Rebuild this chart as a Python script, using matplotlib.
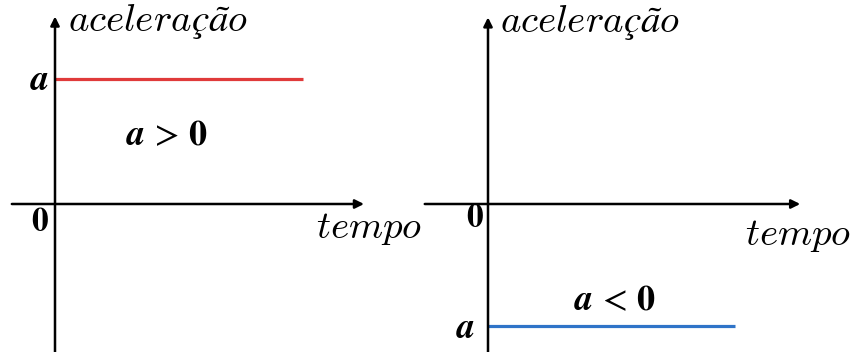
import numpy as np
import matplotlib.pyplot as plt

plt.rcParams['mathtext.fontset'] = 'cm'
plt.rcParams['mathtext.fallback'] = 'stix'

# data: constant acceleration, positive (left) and negative (right)
t_end = [5, 5]
accel = [1, -1]
line_colors = ['#e03a3a', '#2f74c8']
sign_labels = [r'$\boldsymbol{a}\,>\,\mathbf{0}$',
               r'$\boldsymbol{a}\,<\,\mathbf{0}$']
y_label = r'$aceleração$'
x_label = r'$tempo$'

fig = plt.figure(figsize=(8.51, 3.52), dpi=100)

# axes rectangles in figure fraction and data limits
rects = [[0, 0, 420 / 851, 1], [420 / 851, 0, 431 / 851, 1]]
xlims = [(-55 / 49.6, 365 / 49.6), (-68 / 49.4, 363 / 49.4)]
ylims = [(-148 / 125, 204 / 125), (-148 / 122, 204 / 122)]

# annotation spots (data coords)
xaxis_ext = [(-0.87, 6.23), (-1.28, 6.32)]
yaxis_ext = [(-1.19, 1.50), (-1.22, 1.53)]
ylab_pos = [(0.26, 1.46), (0.24, 1.49)]
a_pos = [(-0.32, 0.99), (-0.45, -1.02)]
sign_pos = [(2.26, 0.55), (2.57, -0.79)]
zero_pos = [(-0.30, -0.14), (-0.26, -0.11)]
xlab_pos = [(6.33, -0.19), (6.28, -0.25)]

arrow = dict(arrowstyle='-|>', lw=1.8, color='black', mutation_scale=13,
             shrinkA=0, shrinkB=0)

for i in range(2):
    ax = fig.add_axes(rects[i])
    ax.set_xlim(*xlims[i])
    ax.set_ylim(*ylims[i])
    ax.axis('off')

    # axes with arrows
    ax.annotate('', xy=(xaxis_ext[i][1], 0), xytext=(xaxis_ext[i][0], 0),
                arrowprops=arrow, annotation_clip=False)
    ax.annotate('', xy=(0, yaxis_ext[i][1]), xytext=(0, yaxis_ext[i][0]),
                arrowprops=arrow, annotation_clip=False)

    # acceleration line
    ax.plot([0, t_end[i]], [accel[i], accel[i]], color=line_colors[i],
            lw=2.3, solid_capstyle='butt')

    ax.text(*ylab_pos[i], y_label, fontsize=28, ha='left', va='center')
    ax.text(*xlab_pos[i], x_label, fontsize=28, ha='center', va='center')
    ax.text(*a_pos[i], r'$\boldsymbol{a}$', fontsize=26, ha='center',
            va='center', math_fontfamily='stix')
    ax.text(*zero_pos[i], r'$\mathbf{0}$', fontsize=24, ha='center',
            va='center', math_fontfamily='stix')
    ax.text(*sign_pos[i], sign_labels[i], fontsize=26, ha='center',
            va='center', math_fontfamily='stix')

plt.savefig('out.png', dpi=100)
